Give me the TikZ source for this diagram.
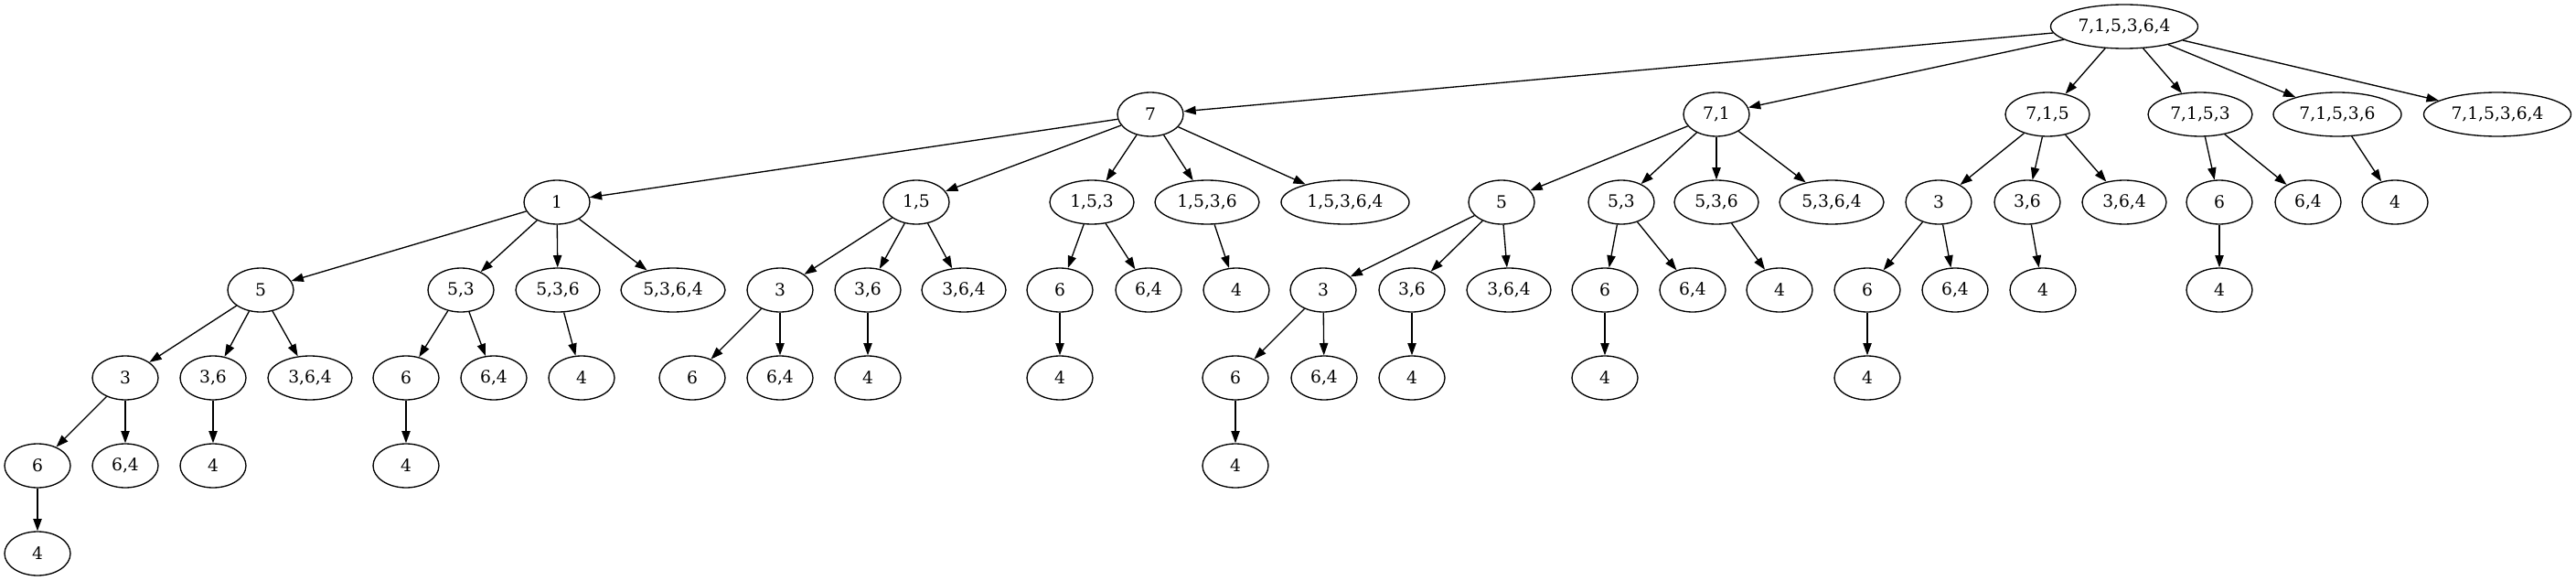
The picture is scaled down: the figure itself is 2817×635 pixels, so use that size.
\documentclass[tikz,border=0pt]{standalone}
\usepackage{fontspec}
\setmainfont{DejaVu Serif}
\usetikzlibrary{arrows.meta,shapes.geometric}
\tikzset{
  st/.style={draw, ellipse, line width=1pt, minimum width=54pt, minimum height=36pt, inner sep=0pt, font=\fontsize{14}{16}\selectfont},
  stm/.style={st, minimum width=69pt},
  stl/.style={st, minimum width=85.5pt},
  stx/.style={st, minimum width=105pt},
  stxx/.style={st, minimum width=120.75pt},
  edge/.style={-{Triangle[length=10pt,width=7pt]}, line width=1pt}
}
\begin{document}
\begin{tikzpicture}[x=0.75pt, y=-0.75pt]
\useasboundingbox (0,0) rectangle (2817,635);

\node[stxx] (r) at (2323,29) {7,1,5,3,6,4};

\node[st] (a) at (1258,125) {7};
\node[st] (b) at (1877,125) {7,1};
\node[stm] (c) at (2239,125) {7,1,5};
\node[stl] (d) at (2406,125) {7,1,5,3};
\node[stx] (e) at (2556,125) {7,1,5,3,6};
\node[stxx] (f) at (2731,125) {7,1,5,3,6,4};

\node[st] (a1) at (609,221) {1};
\node[st] (a2) at (1002,221) {1,5};
\node[stm] (a3) at (1194,221) {1,5,3};
\node[stl] (a4) at (1320,221) {1,5,3,6};
\node[stx] (a5) at (1471,221) {1,5,3,6,4};
\node[st] (b1) at (1642,221) {5};
\node[st] (b2) at (1773,221) {5,3};
\node[stm] (b3) at (1877,221) {5,3,6};
\node[stl] (b4) at (2003,221) {5,3,6,4};
\node[st] (c1) at (2120,221) {3};
\node[st] (c2) at (2217,221) {3,6};
\node[stm] (c3) at (2323,221) {3,6,4};
\node[st] (d1) at (2427,221) {6};
\node[st] (d2) at (2524,221) {6,4};
\node[st] (e1) at (2619,221) {4};

\node[st] (a11) at (285,317) {5};
\node[st] (a12) at (504,317) {5,3};
\node[stm] (a13) at (610,317) {5,3,6};
\node[stl] (a14) at (736,317) {5,3,6,4};
\node[st] (a21) at (853,317) {3};
\node[st] (a22) at (949,317) {3,6};
\node[stm] (a23) at (1054,317) {3,6,4};
\node[st] (a31) at (1159,317) {6};
\node[st] (a32) at (1256,317) {6,4};
\node[st] (a41) at (1352,317) {4};
\node[st] (b11) at (1447,317) {3};
\node[st] (b12) at (1544,317) {3,6};
\node[stm] (b13) at (1650,317) {3,6,4};
\node[st] (b21) at (1755,317) {6};
\node[st] (b22) at (1851,317) {6,4};
\node[st] (b31) at (1946,317) {4};
\node[st] (c11) at (2042,317) {6};
\node[st] (c12) at (2138,317) {6,4};
\node[st] (c21) at (2234,317) {4};
\node[st] (d11) at (2427,317) {4};

\node[st] (a111) at (137,413) {3};
\node[st] (a112) at (233,413) {3,6};
\node[stm] (a113) at (339,413) {3,6,4};
\node[st] (a121) at (444,413) {6};
\node[st] (a122) at (540,413) {6,4};
\node[st] (a131) at (636,413) {4};
\node[st] (a211) at (757,413) {6};
\node[st] (a212) at (853,413) {6,4};
\node[st] (a221) at (949,413) {4};
\node[st] (a311) at (1159,413) {4};
\node[st] (b111) at (1351,413) {6};
\node[st] (b112) at (1448,413) {6,4};
\node[st] (b121) at (1544,413) {4};
\node[st] (b211) at (1755,413) {4};
\node[st] (c111) at (2042,413) {4};

\node[st] (a1111) at (41,509) {6};
\node[st] (a1112) at (137,509) {6,4};
\node[st] (a1121) at (233,509) {4};
\node[st] (a1211) at (444,509) {4};
\node[st] (b1111) at (1351,509) {4};

\node[st] (a11111) at (41,605) {4};

\foreach \p/\q in {r/a, r/b, r/c, r/d, r/e, r/f,
  a/a1, a/a2, a/a3, a/a4, a/a5, b/b1, b/b2, b/b3, b/b4,
  c/c1, c/c2, c/c3, d/d1, d/d2, e/e1,
  a1/a11, a1/a12, a1/a13, a1/a14, a2/a21, a2/a22, a2/a23,
  a3/a31, a3/a32, a4/a41, b1/b11, b1/b12, b1/b13,
  b2/b21, b2/b22, b3/b31, c1/c11, c1/c12, c2/c21, d1/d11,
  a11/a111, a11/a112, a11/a113, a12/a121, a12/a122, a13/a131,
  a21/a211, a21/a212, a22/a221, a31/a311, b11/b111, b11/b112,
  b12/b121, b21/b211, c11/c111,
  a111/a1111, a111/a1112, a112/a1121, a121/a1211, b111/b1111,
  a1111/a11111}
  \draw[edge] (\p) -- (\q);
\end{tikzpicture}
\end{document}
